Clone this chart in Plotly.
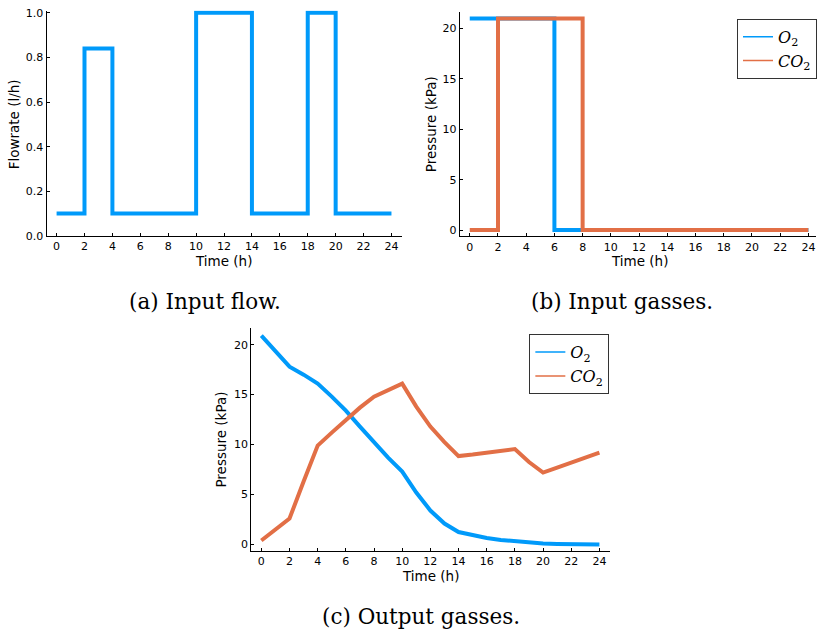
import plotly.graph_objects as go

W, H = 817, 637

# ---- data ----
flow_t = [0, 2, 4, 10, 14, 18, 20, 24]
flow_v = [0.1, 0.84, 0.1, 1.0, 0.1, 1.0, 0.1, 0.1]

in_t = [0, 2, 6, 8, 24]
in_o2 = [21, 21, 0, 0, 0]
in_co2 = [0, 21, 21, 0, 0]

out_t = [0, 1, 2, 3, 4, 5, 6, 7, 8, 9, 10, 11, 12, 13, 14, 15, 16, 17, 18, 19, 20, 21, 22, 23, 24]
out_o2 = [20.9, 19.3, 17.8, 17.0, 16.1, 14.8, 13.4, 11.8, 10.2, 8.7, 7.3, 5.2, 3.4, 2.1, 1.25, 0.9, 0.65, 0.45, 0.3, 0.18, 0.1, 0.06, 0.04, 0.02, 0.01]
out_co2 = [0.4, 1.5, 2.6, 6.3, 9.9, 11.2, 12.5, 13.7, 14.8, 15.45, 16.1, 13.8, 11.8, 10.25, 8.85, 9.0, 9.15, 9.35, 9.55, 8.25, 7.2, 7.7, 8.2, 8.7, 9.2]

time_ticks = list(range(0, 25, 2))

BLUE = "#009AFA"
ORANGE = "#E26F46"
SANS = "DejaVu Sans"
SERIF = "DejaVu Serif"


def px(x):
    return x / W


def py(y):
    return 1 - y / H


fig = go.Figure()

# (a)
fig.add_trace(go.Scatter(x=flow_t, y=flow_v, mode="lines", line=dict(color=BLUE, width=4, shape="hv"),
                         showlegend=False, xaxis="x", yaxis="y"))
# (b)
fig.add_trace(go.Scatter(x=in_t, y=in_o2, mode="lines", line=dict(color=BLUE, width=4, shape="hv"),
                         showlegend=False, xaxis="x2", yaxis="y2"))
fig.add_trace(go.Scatter(x=in_t, y=in_co2, mode="lines", line=dict(color=ORANGE, width=4, shape="hv"),
                         showlegend=False, xaxis="x2", yaxis="y2"))
# (c)
fig.add_trace(go.Scatter(x=out_t, y=out_o2, mode="lines", line=dict(color=BLUE, width=4),
                         showlegend=False, xaxis="x3", yaxis="y3"))
fig.add_trace(go.Scatter(x=out_t, y=out_co2, mode="lines", line=dict(color=ORANGE, width=4),
                         showlegend=False, xaxis="x3", yaxis="y3"))

# legend entries (thin samples)
names = ["<i>O</i><sub>2</sub>", "<i>CO</i><sub>2</sub>"]
for lg, xa, ya in [("legend", "x2", "y2"), ("legend2", "x3", "y3")]:
    for nm, col in zip(names, [BLUE, ORANGE]):
        fig.add_trace(go.Scatter(x=[None], y=[None], mode="lines", name=nm,
                                 line=dict(color=col, width=1.5), legend=lg,
                                 xaxis=xa, yaxis=ya))

axis_common = dict(showgrid=False, zeroline=False, showline=True, linecolor="#000000", linewidth=1,
                   ticks="inside", ticklen=3, tickcolor="#000000", tickwidth=1,
                   tickfont=dict(family=SANS, size=11, color="#000000"), mirror=False)

legend_common = dict(xanchor="left", yanchor="top", bgcolor="white",
                     bordercolor="#333333", borderwidth=1, font=dict(family=SERIF, size=16, color="#000"),
                     tracegroupgap=0, itemwidth=30)

fig.update_layout(
    width=W, height=H, margin=dict(l=0, r=0, t=0, b=0),
    paper_bgcolor="white", plot_bgcolor="white",
    xaxis=dict(domain=[px(46.6), px(402)], range=[-0.72, 24.72], tickvals=time_ticks, anchor="y", **axis_common),
    yaxis=dict(domain=[py(236), py(6.7)], range=[0, 1.01], tickvals=[0, 0.2, 0.4, 0.6, 0.8, 1.0],
               ticktext=["0.0", "0.2", "0.4", "0.6", "0.8", "1.0"], anchor="x", **axis_common),
    xaxis2=dict(domain=[px(460.3), 1.0], range=[-0.71, 24.54], tickvals=time_ticks, anchor="y2", **axis_common),
    yaxis2=dict(domain=[py(236.5), py(8.3)], range=[-0.63, 21.63], tickvals=[0, 5, 10, 15, 20], anchor="x2", **axis_common),
    xaxis3=dict(domain=[px(251.5), px(610.3)], range=[-0.72, 24.72], tickvals=time_ticks, anchor="y3", **axis_common),
    yaxis3=dict(domain=[py(556.4), py(330.1)], range=[-0.63, 21.63], tickvals=[0, 5, 10, 15, 20], anchor="x3", **axis_common),
    legend=dict(x=px(738), y=py(15), **legend_common),
    legend2=dict(x=px(530), y=py(336), **legend_common),
)

annots = [
    # axis titles
    dict(text="Flowrate (l/h)", x=px(14), y=py(122.5), textangle=-90, size=13.5, family=SANS),
    dict(text="Time (h)", x=px(224), y=py(262), textangle=0, size=13.5, family=SANS),
    dict(text="Pressure (kPa)", x=px(431.5), y=py(122.4), textangle=-90, size=13.5, family=SANS),
    dict(text="Time (h)", x=px(640.5), y=py(262), textangle=0, size=13.5, family=SANS),
    dict(text="Pressure (kPa)", x=px(221.5), y=py(443), textangle=-90, size=13.5, family=SANS),
    dict(text="Time (h)", x=px(431.5), y=py(582), textangle=0, size=13.5, family=SANS),
    # captions
    dict(text="(a) Input flow.", x=px(205), y=py(303), textangle=0, size=21.5, family=SERIF),
    dict(text="(b) Input gasses.", x=px(622.5), y=py(303), textangle=0, size=21.5, family=SERIF),
    dict(text="(c) Output gasses.", x=px(421.5), y=py(623), textangle=0, size=21.5, family=SERIF),
]
for a in annots:
    fig.add_annotation(text=a["text"], x=a["x"], y=a["y"], xref="paper", yref="paper",
                       xanchor="center", yanchor="middle", showarrow=False, textangle=a["textangle"],
                       font=dict(family=a["family"], size=a["size"], color="#000000"))

fig.write_html("out.html")
